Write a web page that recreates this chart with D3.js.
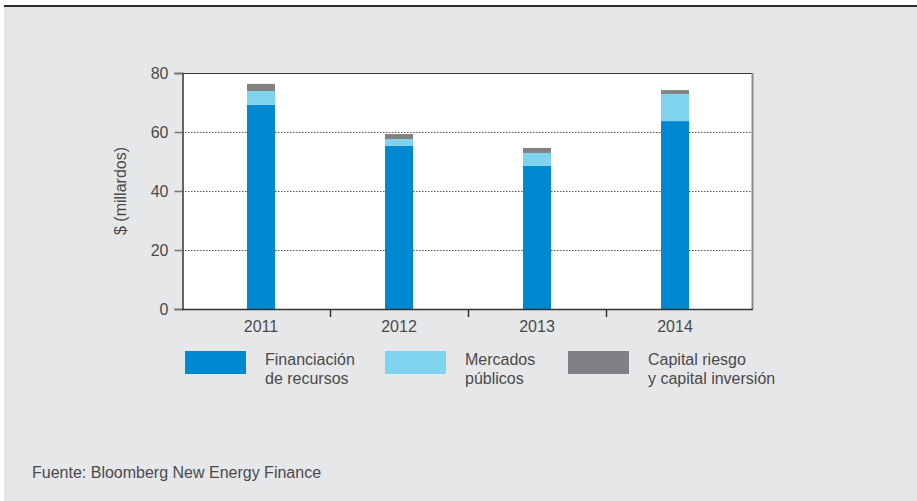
<!DOCTYPE html>
<html><head><meta charset="utf-8">
<script src="https://cdn.jsdelivr.net/npm/d3@7"></script>
<style>
html,body{margin:0;padding:0;background:#fff;}
svg{display:block;font-family:"Liberation Sans",Arial,Helvetica,sans-serif;}
</style></head>
<body>
<svg id="c" width="917" height="501"></svg>
<script>
const years = ["2011","2012","2013","2014"];
const financiacion = [69.2, 55.3, 48.5, 63.7];
const mercados = [4.7, 2.3, 4.4, 9.2];
const capital = [2.4, 1.7, 1.7, 1.3];
const yTicks = [0, 20, 40, 60, 80];
const seriesNames = [["Financiación","de recursos"],["Mercados","públicos"],["Capital riesgo","y capital inversión"]];
const colors = ["#0088d1","#80d3ee","#808185"];

const svg = d3.select("#c");
svg.append("rect").attr("x",4).attr("y",7).attr("width",913).attr("height",494).attr("fill","#e6e7e8");
svg.append("rect").attr("x",4).attr("y",5).attr("width",913).attr("height",2).attr("fill","#2b2b2b");

const L=182,R=753,T=73,B=309;
const x = d3.scaleBand().domain(years).range([192,744]);
const y = d3.scaleLinear().domain([0,80]).range([B,T]);

svg.append("rect").attr("x",L).attr("y",T).attr("width",R-L).attr("height",B-T).attr("fill","#fff");

// gridlines
svg.append("g").selectAll("line").data(yTicks.filter(d=>d>0&&d<80)).join("line")
  .attr("x1",L).attr("x2",R).attr("y1",d=>y(d)+0.5).attr("y2",d=>y(d)+0.5)
  .attr("stroke","#555").attr("stroke-width",1).attr("stroke-dasharray","1.5,1.5");

// stacked bars
const table = years.map((yr,i)=>({year:yr, a:financiacion[i], b:mercados[i], c:capital[i]}));
const stack = d3.stack().keys(["a","b","c"])(table);
const bw = 28;
svg.append("g").selectAll("g").data(stack).join("g").attr("fill",(d,i)=>colors[i])
  .selectAll("rect").data(d=>d).join("rect")
  .attr("x",d=>x(d.data.year)+x.bandwidth()/2-bw/2)
  .attr("width",bw)
  .attr("y",d=>y(d[1]))
  .attr("height",d=>y(d[0])-y(d[1]));

// frame
svg.append("line").attr("x1",L).attr("x2",R).attr("y1",T+0.5).attr("y2",T+0.5).attr("stroke","#333").attr("stroke-width",1.2);
svg.append("line").attr("x1",R-0.5).attr("x2",R-0.5).attr("y1",T).attr("y2",B).attr("stroke","#8a8a8a").attr("stroke-width",2);

// y axis
const yAxis = d3.axisLeft(y).tickValues(yTicks).tickSize(8).tickPadding(6);
const gy = svg.append("g").attr("transform",`translate(${L+0.5},0)`).call(yAxis);
gy.select(".domain").attr("stroke","#333").attr("stroke-width",1.5);
gy.selectAll(".tick line").attr("stroke","#777").attr("stroke-width",1.5);
gy.selectAll(".tick text").attr("font-size",16).attr("fill","#4a4a4a").attr("font-family","Liberation Sans, Arial, sans-serif");

// x axis
const xAxis = d3.axisBottom(x).tickSize(0).tickPadding(12);
const gx = svg.append("g").attr("transform",`translate(0,${B})`).call(xAxis);
gx.select(".domain").remove();
svg.append("line").attr("x1",L).attr("x2",R).attr("y1",B+0.5).attr("y2",B+0.5).attr("stroke","#333").attr("stroke-width",1.5);
gx.selectAll(".tick text").attr("font-size",16).attr("fill","#4a4a4a").attr("font-family","Liberation Sans, Arial, sans-serif");
svg.append("g").selectAll("line").data(years.slice(1)).join("line")
  .attr("x1",d=>x(d)+0.5).attr("x2",d=>x(d)+0.5).attr("y1",B).attr("y2",B+8)
  .attr("stroke","#333").attr("stroke-width",1.5);

// y label
svg.append("text").attr("transform","translate(126,191) rotate(-90)")
  .attr("text-anchor","middle").attr("font-size",16).attr("fill","#4a4a4a").text("$ (millardos)");

// legend
const legX = [185,385,568];
const lg = svg.append("g").selectAll("g").data(seriesNames).join("g")
  .attr("transform",(d,i)=>`translate(${legX[i]},351)`);
lg.append("rect").attr("width",61).attr("height",23).attr("fill",(d,i)=>colors[i]);
lg.append("text").attr("x",80).attr("y",14).attr("font-size",16).attr("fill","#4a4a4a")
  .selectAll("tspan").data(d=>d).join("tspan").attr("x",80).attr("dy",(d,i)=>i?19:0).text(d=>d);

svg.append("text").attr("x",32).attr("y",478).attr("font-size",16).attr("fill","#4a4a4a")
  .text("Fuente: Bloomberg New Energy Finance");
</script>
</body></html>
